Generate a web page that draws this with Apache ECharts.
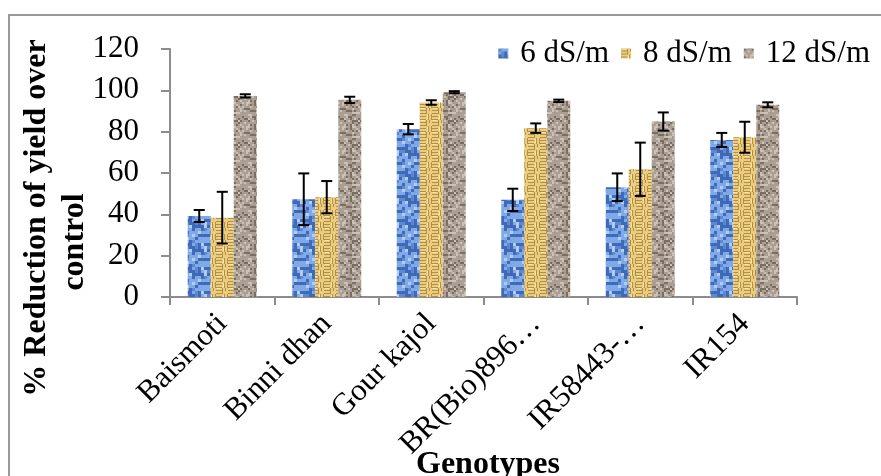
<!DOCTYPE html>
<html>
<head>
<meta charset="utf-8">
<script src="https://cdn.jsdelivr.net/npm/echarts@6/dist/echarts.min.js"></script>
<style>
  html, body { margin: 0; padding: 0; background: #fff; }
  #chart { width: 881px; height: 476px; }
</style>
</head>
<body>
<div id="chart"></div>
<script>
// genotypes and salinity levels
const genotypes = ["Baismoti", "Binni dhan", "Gour kajol", "BR(Bio)896…", "IR58443-…", "IR154"];
const levels = ["6 dS/m", "8 dS/m", "12 dS/m"];

// % reduction of yield over control
const values6 = [39.2, 47.3, 81.2, 47.0, 53.1, 76.0];
const values8 = [38.4, 48.3, 94.1, 81.7, 61.8, 77.3];
const values12 = [97.3, 95.4, 99.1, 94.9, 84.9, 93.0];

// error bar half-widths
const err6 = [2.9, 12.5, 2.5, 5.4, 6.7, 3.4];
const err8 = [12.5, 7.8, 1.1, 2.3, 12.9, 7.5];
const err12 = [0.8, 1.5, 0.5, 0.6, 4.4, 1.2];

const yTicks = [0, 20, 40, 60, 80, 100, 120];

const FONT = "Liberation Serif";
const FS = 31;
const BAR_W = 23;

// small deterministic hash for texture speckles
function hash(i, j, s) {
  const v = Math.sin(i * 127.1 + j * 311.7 + s * 74.7) * 43758.5453;
  return v - Math.floor(v);
}

// mottled blue
function bluePattern() {
  const c = document.createElement("canvas");
  c.width = 24; c.height = 24;
  const g = c.getContext("2d");
  g.fillStyle = "#80a9e8";
  g.fillRect(0, 0, 24, 24);
  for (let i = 0; i < 24; i += 3) {
    for (let j = 0; j < 24; j += 3) {
      const h = hash(i, j, 1);
      if (h < 0.35) { g.fillStyle = "#4069b8"; g.fillRect(i, j, 3, 3); }
      else if (h < 0.5) { g.fillStyle = "#5c88d2"; g.fillRect(i, j, 3, 3); }
      else if (h > 0.85) { g.fillStyle = "#b3cdf5"; g.fillRect(i, j, 3, 3); }
    }
  }
  return c;
}

// basket weave yellow
function yellowPattern() {
  const c = document.createElement("canvas");
  c.width = 12; c.height = 12;
  const g = c.getContext("2d");
  g.fillStyle = "#ebcd80";
  g.fillRect(0, 0, 12, 12);
  g.fillStyle = "#b48e45";
  g.fillRect(0, 2, 6, 1); g.fillRect(0, 5, 6, 1);
  g.fillRect(8, 6, 1, 6); g.fillRect(11, 6, 1, 6);
  g.fillRect(6, 0, 1, 6); g.fillRect(9, 0, 1, 3);
  g.fillRect(0, 8, 6, 1); g.fillRect(0, 11, 6, 1);
  g.fillStyle = "#f8e6ad";
  g.fillRect(1, 0, 4, 1); g.fillRect(7, 7, 1, 4);
  return c;
}

// granite grey
function greyPattern() {
  const c = document.createElement("canvas");
  c.width = 24; c.height = 24;
  const g = c.getContext("2d");
  g.fillStyle = "#ab9e92";
  g.fillRect(0, 0, 24, 24);
  for (let i = 0; i < 24; i += 2) {
    for (let j = 0; j < 24; j += 2) {
      const h = hash(i, j, 3);
      if (h < 0.18) { g.fillStyle = "#7b6d62"; g.fillRect(i, j, 2, 2); }
      else if (h > 0.8) { g.fillStyle = "#cbc1b7"; g.fillRect(i, j, 2, 2); }
    }
  }
  return c;
}

const patterns = [bluePattern(), yellowPattern(), greyPattern()];
const seriesValues = [values6, values8, values12];
const seriesErrors = [err6, err8, err12];

const chart = echarts.init(document.getElementById("chart"));

const barSeries = levels.map((name, k) => ({
  name: name,
  type: "bar",
  data: seriesValues[k],
  barWidth: BAR_W,
  barGap: "0%",
  itemStyle: { color: { image: patterns[k], repeat: "repeat" } },
  z: 2,
}));

const errSeries = levels.map((name, k) => ({
  type: "custom",
  name: name + " err",
  data: seriesValues[k].map((v, i) => [i, v - seriesErrors[k][i], v + seriesErrors[k][i]]),
  z: 5,
  silent: true,
  renderItem: (params, api) => {
    const idx = api.value(0);
    const lo = api.coord([idx, api.value(1)]);
    const hi = api.coord([idx, api.value(2)]);
    const x = lo[0] + (k - 1) * BAR_W;
    const cap = 5.5;
    const style = { stroke: "#000", lineWidth: 2, fill: null };
    return {
      type: "group",
      children: [
        { type: "line", shape: { x1: x, y1: lo[1], x2: x, y2: hi[1] }, style },
        { type: "line", shape: { x1: x - cap, y1: lo[1], x2: x + cap, y2: lo[1] }, style },
        { type: "line", shape: { x1: x - cap, y1: hi[1], x2: x + cap, y2: hi[1] }, style },
      ],
    };
  },
}));

const option = {
  backgroundColor: "#fff",
  animation: false,
  textStyle: { fontFamily: FONT },
  legend: {
    data: levels,
    right: 6,
    top: 33,
    icon: "rect",
    itemWidth: 10,
    itemHeight: 10,
    itemGap: 12,
    textStyle: { fontFamily: FONT, fontSize: FS, color: "#000", padding: [0, 0, 0, 7] },
  },
  grid: { left: 170, right: 84, top: 49, bottom: 179 },
  xAxis: {
    type: "category",
    data: genotypes,
    axisLine: { lineStyle: { color: "#8c8c8c", width: 2 } },
    axisTick: { show: true, length: 8, lineStyle: { color: "#8c8c8c", width: 2 } },
    axisLabel: {
      rotate: 45,
      margin: 22,
      interval: 0,
      fontFamily: FONT,
      fontSize: FS,
      color: "#000",
    },
  },
  yAxis: {
    type: "value",
    min: yTicks[0],
    max: yTicks[yTicks.length - 1],
    interval: 20,
    axisLine: { show: true, lineStyle: { color: "#8c8c8c", width: 2 } },
    axisTick: { show: true, inside: false, length: 9, lineStyle: { color: "#8c8c8c", width: 2 } },
    splitLine: { show: false },
    axisLabel: { margin: 31, fontFamily: FONT, fontSize: FS, color: "#000" },
  },
  graphic: [
    {
      type: "rect",
      shape: { x: 9, y: 15, width: 900, height: 500 },
      style: { fill: null, stroke: "#999", lineWidth: 2 },
      silent: true,
    },
    {
      type: "text",
      x: 37, y: 218,
      rotation: Math.PI / 2,
      style: {
        text: "% Reduction of yield over",
        font: "bold 32px 'Liberation Serif'",
        fill: "#000",
        align: "center",
        verticalAlign: "middle",
      },
    },
    {
      type: "text",
      x: 75, y: 242,
      rotation: Math.PI / 2,
      style: {
        text: "control",
        font: "bold 32px 'Liberation Serif'",
        fill: "#000",
        align: "center",
        verticalAlign: "middle",
      },
    },
    {
      type: "text",
      x: 488, y: 465,
      style: {
        text: "Genotypes",
        font: "bold 32px 'Liberation Serif'",
        fill: "#000",
        align: "center",
        verticalAlign: "middle",
      },
    },
  ],
  series: [...barSeries, ...errSeries],
};

chart.setOption(option);
</script>
</body>
</html>
